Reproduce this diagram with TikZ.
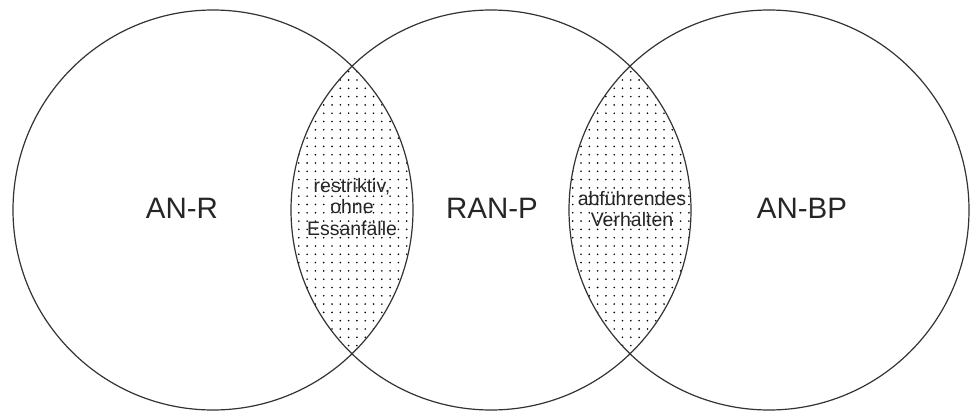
\documentclass[tikz,border=0pt]{standalone}
\usepackage{fontspec}
\setmainfont{Liberation Sans}
\usetikzlibrary{patterns.meta}
\begin{document}
\begin{tikzpicture}[x=1pt,y=1pt,
  setcircle/.style={circle,draw=black!80,line width=1.2pt,minimum size=400pt,inner sep=0pt},
  biglabel/.style={font=\fontsize{29.5}{31}\selectfont,text=black!85},
  lenslabel/.style={font=\fontsize{19.5}{21.5}\selectfont,text=black!85,align=center,inner sep=0pt},
  dotfill/.style={pattern={Dots[distance=8.3pt,radius=0.9pt]},pattern color=black}]
\useasboundingbox (0,0) rectangle (971,-412);
% lens fills
\begin{scope}
  \clip (213,-210) circle (200);
  \fill[dotfill] (491,-210) circle (200);
\end{scope}
\begin{scope}
  \clip (491,-210) circle (200);
  \fill[dotfill] (769,-210) circle (200);
\end{scope}
\node[setcircle] (anr) at (213,-210) {};
\node[setcircle] (ranp) at (491,-210) {};
\node[setcircle] (anbp) at (769,-210) {};
\node[biglabel] (lanr) at (182,-208) {AN-R};
\node[biglabel] (lranp) at (492,-208) {RAN-P};
\node[biglabel] (lanbp) at (802,-208) {AN-BP};
\node[lenslabel] (l1) at (352,-207) {restriktiv,\\ohne\\Essanfälle};
\node[lenslabel] (l2) at (632,-209) {abführendes\\Verhalten};
\end{tikzpicture}
\end{document}
